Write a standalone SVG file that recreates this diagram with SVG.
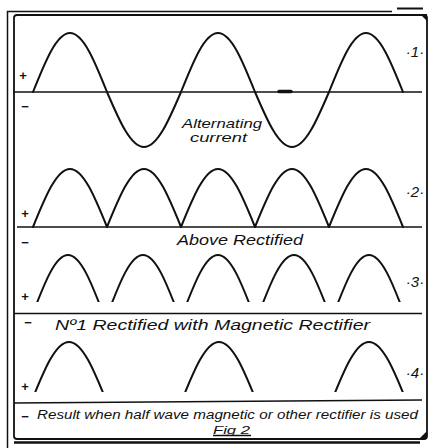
<svg xmlns="http://www.w3.org/2000/svg" width="431" height="448" viewBox="0 0 431 448">
<style>
.w{fill:none;stroke:#111;stroke-width:2;stroke-linecap:round;stroke-linejoin:round}
.ax{fill:none;stroke:#111;stroke-width:1.5}
.fr{fill:none;stroke:#111}
.t{font-family:"Liberation Sans",Arial,sans-serif;font-style:italic;fill:#111}
.s{font-family:"Liberation Sans",Arial,sans-serif;font-weight:bold;fill:#111;font-size:13px;text-anchor:middle}
.n{font-family:"Liberation Sans",Arial,sans-serif;font-style:italic;fill:#111;font-size:15px;text-anchor:middle}
</style>
<defs>
<clipPath id="c3"><rect x="0" y="0" width="431" height="302"/></clipPath>
<clipPath id="c4"><rect x="0" y="300" width="431" height="92"/></clipPath>
</defs>
<rect width="431" height="448" fill="#fff"/>
<g id="frame">
<path class="fr" stroke-width="1.5" d="M7.5,448 V11.5 H392"/>
<path class="fr" stroke-width="2" d="M397,8.5 H423"/>
<rect class="fr" stroke-width="1.8" x="14" y="15" width="413" height="424" rx="3"/>
<path class="fr" stroke-width="2.5" d="M14,442.5 H420"/>
<path fill="#111" d="M420,14 L427,14 L427,21 Z"/>
<path fill="#111" d="M427,431 L427,439 L419,439 Z"/>
</g>
<g id="panel1">
<path class="ax" d="M13,92 H422"/>
<path fill="none" stroke="#111" stroke-width="3.5" stroke-linecap="round" d="M279,91.5 H291"/>
<path class="w" d="M33,92 C45.07,61.8 56.6,33 70,33 C83.4,33 94.93,61.8 107,92 C119.07,120.2 130.6,147 144,147 C157.4,147 168.93,120.2 181,92 C193.07,61.8 204.6,33 218,33 C231.4,33 242.93,61.8 255,92 C267.07,120.2 278.6,147 292,147 C305.4,147 316.93,120.2 329,92 C341.07,61.8 352.6,33 366,33 C379.4,33 390.93,61.8 403,92"/>
<text class="s" x="23" y="80">+</text>
<text class="s" x="25" y="111">−</text>
<text class="t" x="182" y="128" font-size="13" textLength="80" lengthAdjust="spacingAndGlyphs">Alternating</text>
<text class="t" x="190" y="142" font-size="13" textLength="57" lengthAdjust="spacingAndGlyphs">current</text>
<text class="n" x="415" y="57">·1·</text>
</g>
<g id="panel2">
<path class="ax" d="M17,227 H422"/>
<path class="w" d="M33,227 C45.07,197.3 56.6,169 70,169 C83.4,169 94.93,197.3 107,227 C119.07,197.3 130.6,169 144,169 C157.4,169 168.93,197.3 181,227 C193.07,197.3 204.6,169 218,169 C231.4,169 242.93,197.3 255,227 C267.07,197.3 278.6,169 292,169 C305.4,169 316.93,197.3 329,227 C341.07,197.3 352.6,169 366,169 C379.4,169 390.93,197.3 403,227"/>
<text class="s" x="25" y="218">+</text>
<text class="s" x="25" y="247">−</text>
<text class="t" x="177" y="245" font-size="14" textLength="126" lengthAdjust="spacingAndGlyphs">Above Rectified</text>
<text class="n" x="415" y="197">·2·</text>
</g>
<g id="panel3">
<g clip-path="url(#c3)">
<path class="w" d="M33,313 C44.4,283.3 55.3,255 68,255 C80.7,255 91.6,283.3 103,313"/>
<path class="w" d="M108,313 C119.4,283.3 130.3,255 143,255 C155.7,255 166.6,283.3 178,313"/>
<path class="w" d="M183,313 C194.4,283.3 205.3,255 218,255 C230.7,255 241.6,283.3 253,313"/>
<path class="w" d="M259,313 C270.4,283.3 281.3,255 294,255 C306.7,255 317.6,283.3 329,313"/>
<path class="w" d="M334,313 C345.4,283.3 356.3,255 369,255 C381.7,255 392.6,283.3 404,313"/>
</g>
<path class="ax" d="M14,313.5 H422"/>
<text class="s" x="25" y="301">+</text>
<text class="s" x="28" y="327">−</text>
<text class="t" x="55" y="330" font-size="15" textLength="315" lengthAdjust="spacingAndGlyphs">Nº1 Rectified with Magnetic Rectifier</text>
<text class="n" x="415" y="287">·3·</text>
</g>
<g id="panel4">
<g clip-path="url(#c4)">
<path class="w" d="M32,400 C44.07,370.3 55.6,342 69,342 C82.4,342 93.93,370.3 106,400"/>
<path class="w" d="M182,400 C194.07,370.3 205.6,342 219,342 C232.4,342 243.93,370.3 256,400"/>
<path class="w" d="M332,400 C344.07,370.3 355.6,342 369,342 C382.4,342 393.93,370.3 406,400"/>
</g>
<path class="ax" d="M14,403 L422,400"/>
<text class="s" x="25" y="421">−</text>
<text class="s" x="25" y="391">+</text>
<text class="t" x="37" y="419" font-size="12.5" textLength="381" lengthAdjust="spacingAndGlyphs">Result when half wave magnetic or other rectifier is used</text>
<text class="t" x="213" y="433.5" font-size="11.5" textLength="37" lengthAdjust="spacingAndGlyphs">Fig 2</text>
<path class="ax" stroke-width="1.2" d="M213,435.5 H251"/>
<text class="n" x="415" y="378">·4·</text>
</g>
</svg>
